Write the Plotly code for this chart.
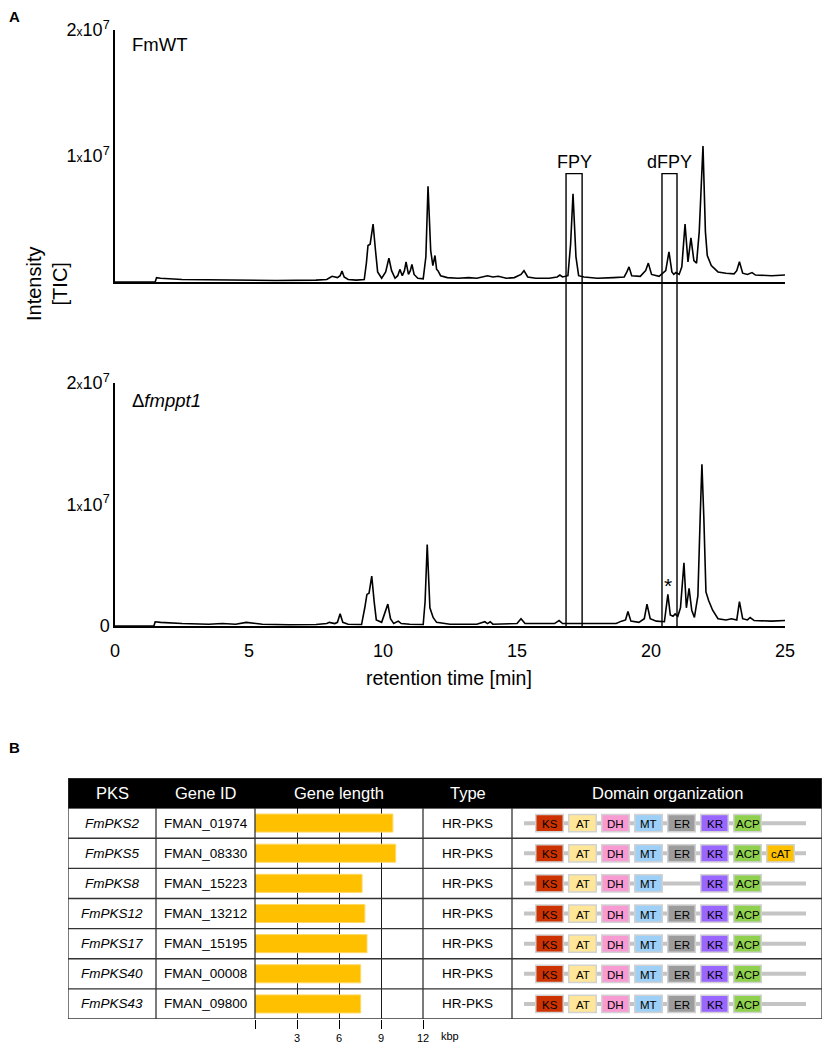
import plotly.graph_objects as go

# ---------------- DATA ----------------
# Panel A: TIC chromatograms (time in min, intensity in units of 1e6 counts)
wt_time = [0, 1.5, 1.55, 1.7, 2.5, 4, 6, 7.5, 7.9, 8.1, 8.3, 8.4, 8.47, 8.55, 8.7, 9.0, 9.3,
           9.38, 9.44, 9.52, 9.63, 9.72, 9.8, 9.95, 10.1, 10.22, 10.32, 10.45, 10.55, 10.63,
           10.72, 10.8, 10.86, 10.95, 11.02, 11.08, 11.16, 11.3, 11.5, 11.6, 11.68, 11.78,
           11.86, 11.94, 12.0, 12.05, 12.15, 12.4, 12.8, 13.2, 13.5, 13.9, 14.1, 14.3, 14.6,
           14.9, 15.15, 15.26, 15.4, 15.7, 16.2, 16.5, 16.6, 16.7, 16.9, 17.0, 17.09, 17.2,
           17.3, 17.5, 18.0, 18.6, 19.0, 19.1, 19.18, 19.28, 19.6, 19.8, 19.9, 20.02, 20.3,
           20.55, 20.67, 20.78, 20.85, 20.93, 21.05, 21.15, 21.27, 21.38, 21.49, 21.6, 21.7,
           21.8, 21.94, 22.03, 22.1, 22.25, 22.5, 22.8, 23.1, 23.2, 23.3, 23.42, 23.6, 23.77,
           23.9, 24.5, 25.0]
wt_int = [0, 0, 0.35, 0.3, 0.2, 0.15, 0.12, 0.15, 0.2, 0.45, 0.35, 0.5, 0.87, 0.4, 0.2, 0.15, 0.2,
          1.5, 2.9, 3.0, 4.6, 2.5, 0.8, 0.3, 0.8, 1.9, 0.9, 0.3, 0.5, 1.0,
          0.5, 0.9, 1.6, 0.6, 0.9, 1.4, 0.6, 0.3, 0.25, 2.0, 7.6, 2.5,
          1.3, 2.1, 1.0, 0.9, 0.5, 0.35, 0.3, 0.35, 0.3, 0.5, 0.4, 0.45, 0.3,
          0.35, 0.6, 0.9, 0.4, 0.3, 0.3, 0.4, 0.55, 0.4, 0.5, 3.0, 7.0, 2.0,
          0.5, 0.4, 0.3, 0.35, 0.4, 0.8, 1.2, 0.5, 0.45, 0.9, 1.5, 0.6, 0.45,
          0.9, 2.4, 0.8, 0.6, 0.75, 0.6, 1.2, 4.6, 1.6, 3.5, 1.7, 1.5,
          4.0, 10.8, 4.0, 2.1, 1.3, 0.8, 0.7, 0.65, 0.9, 1.6, 0.7, 0.6, 0.75,
          0.55, 0.5, 0.55]

ko_time = [0, 1.45, 1.5, 1.7, 2.5, 3.5, 4.0, 4.5, 4.9, 5.1, 5.5, 6.5, 7.5, 7.9, 8.0, 8.2, 8.3,
           8.4, 8.5, 8.7, 9.2, 9.32, 9.4, 9.48, 9.58, 9.67, 9.75, 9.95, 10.08, 10.18, 10.28,
           10.4, 10.57, 10.68, 11.0, 11.5, 11.57, 11.65, 11.75, 11.87, 12.0, 12.5, 13.5, 13.8,
           13.9, 14.0, 14.1, 15.0, 15.15, 15.3, 16.4, 16.57, 16.7, 17.8, 18.7, 18.9, 19.05,
           19.14, 19.25, 19.55, 19.62, 19.75, 19.85, 19.97, 20.2, 20.5, 20.63, 20.72, 20.82,
           20.9, 21.0, 21.1, 21.23, 21.32, 21.42, 21.52, 21.62, 21.75, 21.84, 21.9, 21.97,
           22.05, 22.15, 22.3, 22.5, 22.8, 23.0, 23.2, 23.3, 23.42, 23.6, 23.7, 23.85, 24.5, 25.0]
ko_int = [0, 0, 0.35, 0.3, 0.2, 0.15, 0.2, 0.15, 0.3, 0.25, 0.15, 0.1, 0.12, 0.2, 0.3, 0.2, 0.3,
          1.0, 0.3, 0.15, 0.12, 1.5, 2.6, 2.7, 4.1, 2.0, 0.5, 0.3, 1.2, 1.8, 0.6,
          0.2, 0.4, 0.2, 0.15, 0.12, 2.0, 6.7, 1.5, 0.7, 0.3, 0.15, 0.15, 0.35,
          0.2, 0.35, 0.15, 0.2, 0.6, 0.2, 0.2, 0.45, 0.2, 0.2, 0.2, 0.4, 0.5,
          1.2, 0.4, 0.3, 0.4, 0.6, 1.8, 0.6, 0.4, 0.35, 2.6, 0.9, 0.8,
          1.0, 0.8, 1.5, 5.2, 1.5, 3.1, 1.3, 0.7, 2.5, 9.3, 13.3, 9.0,
          2.8, 2.1, 1.3, 0.6, 0.5, 0.6, 0.5, 2.0, 0.6, 0.5, 0.7, 0.45, 0.4, 0.45]

int_unit = 1e6
y_tickvals = [0, 1e7, 2e7]
y_ticktext = ['0', '1<span style="font-size:12px">x</span>10<sup>7</sup>',
              '2<span style="font-size:12px">x</span>10<sup>7</sup>']
x_tickvals = [0, 5, 10, 15, 20, 25]

# highlighted compounds: (label, start time, end time, box height in counts)
boxes = [('FPY', 16.83, 17.43, 0.86e7), ('dFPY', 20.41, 20.97, 0.86e7)]
star_time, star_int = 20.63, 2.6e6

# Panel B: PKS table
pks_names = ['FmPKS2', 'FmPKS5', 'FmPKS8', 'FmPKS12', 'FmPKS17', 'FmPKS40', 'FmPKS43']
gene_ids = ['FMAN_01974', 'FMAN_08330', 'FMAN_15223', 'FMAN_13212', 'FMAN_15195',
            'FMAN_00008', 'FMAN_09800']
gene_length_kbp = [9.85, 10.05, 7.65, 7.85, 8.0, 7.55, 7.55]
pks_types = ['HR-PKS'] * 7
domain_org = [
    ['KS', 'AT', 'DH', 'MT', 'ER', 'KR', 'ACP'],
    ['KS', 'AT', 'DH', 'MT', 'ER', 'KR', 'ACP', 'cAT'],
    ['KS', 'AT', 'DH', 'MT', None, 'KR', 'ACP'],
    ['KS', 'AT', 'DH', 'MT', 'ER', 'KR', 'ACP'],
    ['KS', 'AT', 'DH', 'MT', 'ER', 'KR', 'ACP'],
    ['KS', 'AT', 'DH', 'MT', 'ER', 'KR', 'ACP'],
    ['KS', 'AT', 'DH', 'MT', 'ER', 'KR', 'ACP'],
]
header = ['PKS', 'Gene ID', 'Gene length', 'Type', 'Domain organization']
kbp_ticks = [0, 3, 6, 9, 12]
kbp_ticktext = ['', '3', '6', '9', '12']

domain_colors = {'KS': '#CC3300', 'AT': '#FFE699', 'DH': '#F99BD3', 'MT': '#9DCFF7',
                 'ER': '#9C9C9C', 'KR': '#9966FF', 'ACP': '#8FD14F', 'cAT': '#FFC000'}

# ---------------- LAYOUT HELPERS ----------------
W, H = 829, 1046
FONT = 'Liberation Sans, Arial, sans-serif'


def fx(px):
    return px / W


def fy(py):
    return 1 - py / H


xdom = [fx(115), fx(785)]
ydom_top = [fy(282), fy(30)]
ydom_bot = [fy(626), fy(383)]
col_edges = [68, 156, 255, 423, 512, 822]
slot_c0, slot_step, box_w = 549.5, 33.0, 27.5
backbone = (524, 806)
box_half_h = 0.285

fig = go.Figure()
fig.add_trace(go.Scatter(x=wt_time, y=[v * int_unit for v in wt_int], mode='lines',
                         line=dict(color='black', width=1.6), xaxis='x', yaxis='y',
                         showlegend=False, hoverinfo='skip'))
fig.add_trace(go.Scatter(x=ko_time, y=[v * int_unit for v in ko_int], mode='lines',
                         line=dict(color='black', width=1.6), xaxis='x2', yaxis='y2',
                         showlegend=False, hoverinfo='skip'))
rows = list(range(len(pks_names)))
fig.add_trace(go.Bar(x=gene_length_kbp, y=rows, orientation='h', width=0.6,
                     marker=dict(color='#FFC000', line=dict(color='#FFD966', width=1)),
                     xaxis='x3', yaxis='y3', showlegend=False, hoverinfo='skip'))
fig.add_trace(go.Scatter(x=[col_edges[0]], y=[0], mode='markers', opacity=0,
                         xaxis='x4', yaxis='y4', showlegend=False, hoverinfo='skip'))

axis_common = dict(showgrid=False, zeroline=False, linecolor='black', linewidth=1.5,
                   showline=True, automargin=False,
                   tickfont=dict(family=FONT, size=18, color='black'))
fig.update_layout(
    width=W, height=H, margin=dict(l=0, r=0, t=0, b=0, pad=0, autoexpand=False),
    paper_bgcolor='white', plot_bgcolor='rgba(0,0,0,0)',
    font=dict(family=FONT, color='black'),
    xaxis=dict(domain=xdom, range=[0, 25], anchor='y', showticklabels=False, ticks='',
               **axis_common),
    yaxis=dict(domain=ydom_top, range=[0, 2e7], anchor='x', tickvals=y_tickvals[1:],
               ticktext=y_ticktext[1:], ticks='', **axis_common),
    xaxis2=dict(domain=xdom, range=[0, 25], anchor='y2', tickvals=x_tickvals,
                ticktext=[str(v) for v in x_tickvals], ticks='outside', ticklen=8,
                tickcolor='rgba(0,0,0,0)', **axis_common),
    yaxis2=dict(domain=ydom_bot, range=[0, 2e7], anchor='x2', tickvals=y_tickvals,
                ticktext=y_ticktext, ticks='', **axis_common),
    xaxis3=dict(domain=[fx(255), fx(423)], range=[0, 12], anchor='y3', tickvals=kbp_ticks,
                ticktext=kbp_ticktext, ticks='outside', ticklen=9, tickwidth=1,
                tickcolor='black', showgrid=True, gridcolor='#1a1a1a', gridwidth=1,
                zeroline=False, showline=False, automargin=False,
                tickfont=dict(family=FONT, size=11, color='black')),
    yaxis3=dict(domain=[fy(1019), fy(808)], range=[6.5, -0.5], anchor='x3', visible=False,
                automargin=False),
    xaxis4=dict(domain=[fx(68), fx(822)], range=[68, 822], anchor='y4', visible=False,
                automargin=False),
    yaxis4=dict(domain=[fy(1019), fy(778)], range=[6.5, -1.5], anchor='x4', visible=False,
                automargin=False),
)

shapes = []
ann = []

# highlight boxes spanning both chromatograms
yb = ydom_bot[0]
for label, t0, t1, top in boxes:
    yt = ydom_top[0] + top / 2e7 * (ydom_top[1] - ydom_top[0])
    shapes.append(dict(type='path', xref='x', yref='paper',
                       path=f'M {t0},{yb} L {t0},{yt} L {t1},{yt} L {t1},{yb}',
                       line=dict(color='black', width=1.4)))
    ann.append(dict(text=label, x=(t0 + t1) / 2, xref='x', y=yt, yref='paper',
                    xanchor='center', yanchor='bottom', yshift=0, showarrow=False,
                    font=dict(family=FONT, size=18)))
ann.append(dict(text='*', x=star_time, xref='x2', y=star_int, yref='y2', xanchor='center',
                yanchor='bottom', yshift=-5, showarrow=False, font=dict(family=FONT, size=21)))


def pann(text, px, py, size, xanchor='center', **kw):
    return dict(text=text, x=fx(px), y=fy(py), xref='paper', yref='paper',
                xanchor=xanchor, yanchor='middle', showarrow=False,
                font=dict(family=FONT, size=size, color='black'), **kw)


ann += [
    pann('<b>A</b>', 14, 17, 15),
    pann('<b>B</b>', 14, 747, 15),
    pann('FmWT', 130, 45, 18.5, xanchor='left'),
    pann('Δ<i>fmppt1</i>', 130, 401, 18.5, xanchor='left'),
    pann('Intensity<br>[TIC]', 47, 284, 20, textangle=-90),
    pann('retention time [min]', 449, 678, 19.5),
    pann('kbp', 439, 1036, 11, xanchor='left'),
]

# table
L, R = col_edges[0], col_edges[-1]
border = dict(color='#333333', width=1.3)
shapes.append(dict(type='rect', xref='x4', yref='y4', x0=L, x1=R, y0=-1.5, y1=-0.5,
                   fillcolor='black', line=dict(color='black', width=1), layer='below'))
for r in range(len(pks_names)):
    yline = r + 0.5
    shapes.append(dict(type='line', xref='x4', yref='y4', x0=L, x1=R, y0=yline, y1=yline,
                       line=border))
for ce in col_edges:
    shapes.append(dict(type='line', xref='x4', yref='y4', x0=ce, x1=ce,
                       y0=-1.5 if ce in (L, R) else -0.5, y1=6.5, line=border))
shapes.append(dict(type='line', xref='x4', yref='y4', x0=L, x1=R, y0=-1.5, y1=-1.5, line=border))

centers = [(col_edges[i] + col_edges[i + 1]) / 2 for i in range(len(col_edges) - 1)]
for c, h in zip(centers, header):
    ann.append(dict(text=h, x=c, y=-1, xref='x4', yref='y4', xanchor='center',
                    yanchor='middle', showarrow=False,
                    font=dict(family=FONT, size=16.5, color='white')))

for r in rows:
    for c, txt in ((centers[0], f'<i>{pks_names[r]}</i>'), (centers[1], gene_ids[r]),
                   (centers[3], pks_types[r])):
        ann.append(dict(text=txt, x=c, y=r, xref='x4', yref='y4', xanchor='center',
                        yanchor='middle', showarrow=False, font=dict(family=FONT, size=13.5)))
    shapes.append(dict(type='line', xref='x4', yref='y4', x0=backbone[0], x1=backbone[1],
                       y0=r, y1=r, line=dict(color='#C4C4C4', width=4)))
    for i, d in enumerate(domain_org[r]):
        if d is None:
            continue
        c = slot_c0 + i * slot_step
        shapes.append(dict(type='rect', xref='x4', yref='y4', x0=c - box_w / 2,
                           x1=c + box_w / 2, y0=r - box_half_h, y1=r + box_half_h,
                           fillcolor=domain_colors[d], line=dict(color='#D2D2D2', width=1.5)))
        ann.append(dict(text=d, x=c, y=r, xref='x4', yref='y4', xanchor='center',
                        yanchor='middle', yshift=-1, showarrow=False,
                        font=dict(family=FONT, size=11.5, color='black')))

fig.update_layout(shapes=shapes, annotations=ann)
fig.write_html('out.html', config={'displayModeBar': False},
               post_script="document.body.style.margin='0';"
                           "document.documentElement.style.overflow='hidden';")
